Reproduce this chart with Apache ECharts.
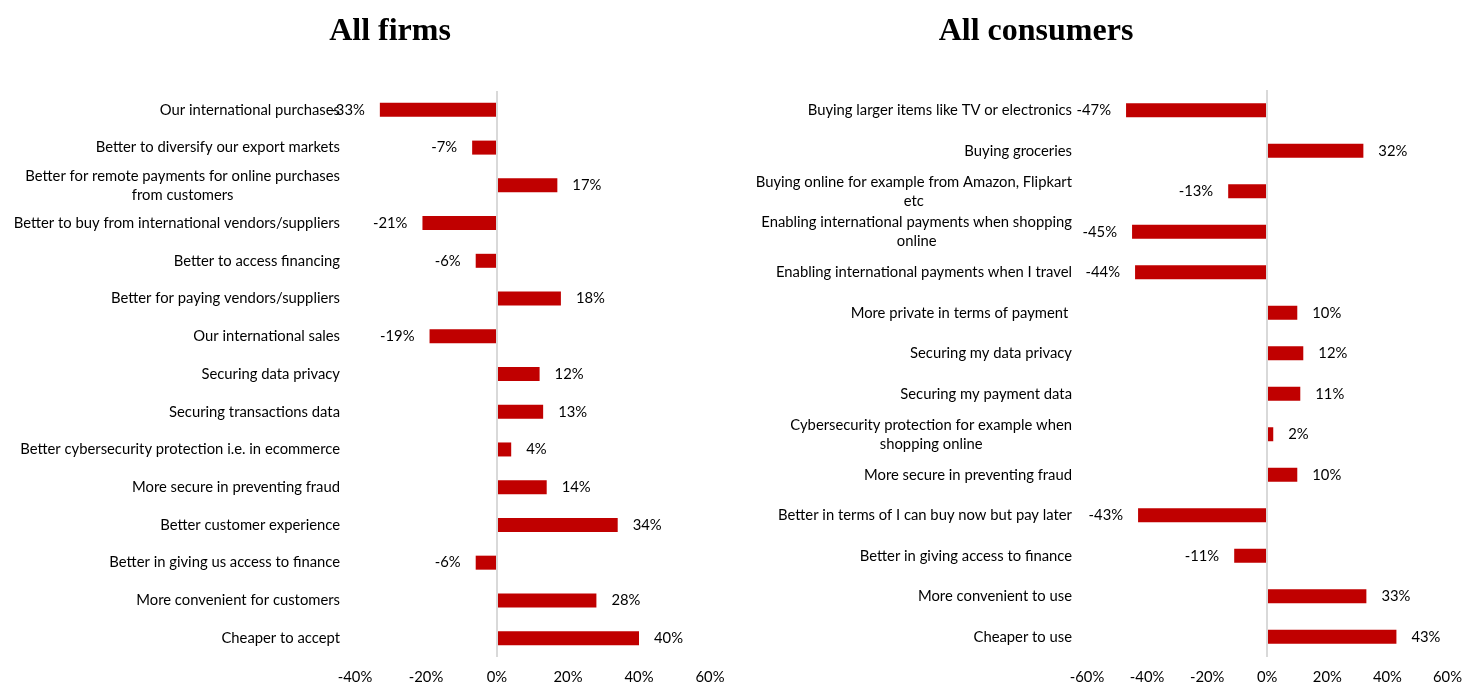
<!DOCTYPE html>
<html>
<head>
<meta charset="utf-8">
<script src="https://cdn.jsdelivr.net/npm/echarts@6/dist/echarts.min.js"></script>
<style>
html,body{margin:0;padding:0;background:#fff;}
#c{width:1465px;height:685px;}
</style>
</head>
<body>
<div id="c"></div>
<script>
const firmCategories = [
  "Our international purchases",
  "Better to diversify our export markets",
  "Better for remote payments for online purchases\nfrom customers",
  "Better to buy from international vendors/suppliers",
  "Better to access financing",
  "Better for paying vendors/suppliers",
  "Our international sales",
  "Securing data privacy",
  "Securing transactions data",
  "Better cybersecurity protection i.e. in ecommerce",
  "More secure in preventing fraud",
  "Better customer experience",
  "Better in giving us access to finance",
  "More convenient for customers",
  "Cheaper to accept"
];
const firmValues = [-33, -7, 17, -21, -6, 18, -19, 12, 13, 4, 14, 34, -6, 28, 40];

const consumerCategories = [
  "Buying larger items like TV or electronics",
  "Buying groceries",
  "Buying online for example from Amazon, Flipkart\netc",
  "Enabling international payments when shopping\nonline",
  "Enabling international payments when I travel",
  "More private in terms of payment ",
  "Securing my data privacy",
  "Securing my payment data",
  "Cybersecurity protection for example when\nshopping online",
  "More secure in preventing fraud",
  "Better in terms of I can buy now but pay later",
  "Better in giving access to finance",
  "More convenient to use",
  "Cheaper to use"
];
const consumerValues = [-47, 32, -13, -45, -44, 10, 12, 11, 2, 10, -43, -11, 33, 43];

const titles = ["All firms", "All consumers"];

const FONT = "Lato, 'Open Sans', sans-serif";
const FS = 14.8;
const RED = "#C00000";

function catLabel(v) {
  return v.split("\n").map(l => "{c|" + l + "}").join("\n");
}
function barData(vals) {
  return vals.map(v => ({
    value: v,
    label: { position: v < 0 ? "left" : "right" }
  }));
}
function xAxisCfg(gi, min, max) {
  return {
    type: "value", gridIndex: gi, min: min, max: max, interval: 20,
    axisLine: { show: false }, axisTick: { show: false }, splitLine: { show: false },
    axisLabel: { formatter: v => v + "%", fontFamily: FONT, fontSize: FS, color: "#000", margin: 13 }
  };
}
function yAxisCfg(gi, cats) {
  return {
    type: "category", gridIndex: gi, data: cats, inverse: true,
    axisLine: { show: false, onZero: false }, axisTick: { show: false }, splitLine: { show: false },
    axisLabel: {
      formatter: catLabel, margin: 15, align: "right",
      fontFamily: FONT, fontSize: FS, color: "#000",
      rich: { c: { align: "center", fontFamily: FONT, fontSize: FS, color: "#000", lineHeight: 19 } }
    }
  };
}
function seriesCfg(gi, vals) {
  return {
    type: "bar", xAxisIndex: gi, yAxisIndex: gi, data: barData(vals),
    barWidth: 14, itemStyle: { color: RED },
    label: { show: true, formatter: p => p.value + "%", distance: 15, fontFamily: FONT, fontSize: FS, color: "#000" },
    markLine: {
      silent: true, symbol: "none", animation: false,
      label: { show: false },
      lineStyle: { color: "#d9d9d9", width: 2, type: "solid" },
      data: [{ xAxis: 0 }]
    }
  };
}

const TITLE_STYLE = { fontFamily: "'Liberation Serif', 'Times New Roman', serif", fontWeight: "bold", fontSize: 32, color: "#000" };

const chart = echarts.init(document.getElementById("c"), null, { renderer: "canvas" });
chart.setOption({
  animation: false,
  backgroundColor: "#fff",
  title: [
    { text: titles[0], left: 385, top: 11, textAlign: "center", textStyle: TITLE_STYLE },
    { text: titles[1], left: 1031, top: 11, textAlign: "center", textStyle: TITLE_STYLE }
  ],
  grid: [
    { left: 355, width: 355, top: 91, height: 567 },
    { left: 1087, width: 364, top: 90, height: 568 }
  ],
  xAxis: [xAxisCfg(0, -40, 60), xAxisCfg(1, -60, 60)],
  yAxis: [yAxisCfg(0, firmCategories), yAxisCfg(1, consumerCategories)],
  series: [seriesCfg(0, firmValues), seriesCfg(1, consumerValues)]
});
</script>
</body>
</html>
